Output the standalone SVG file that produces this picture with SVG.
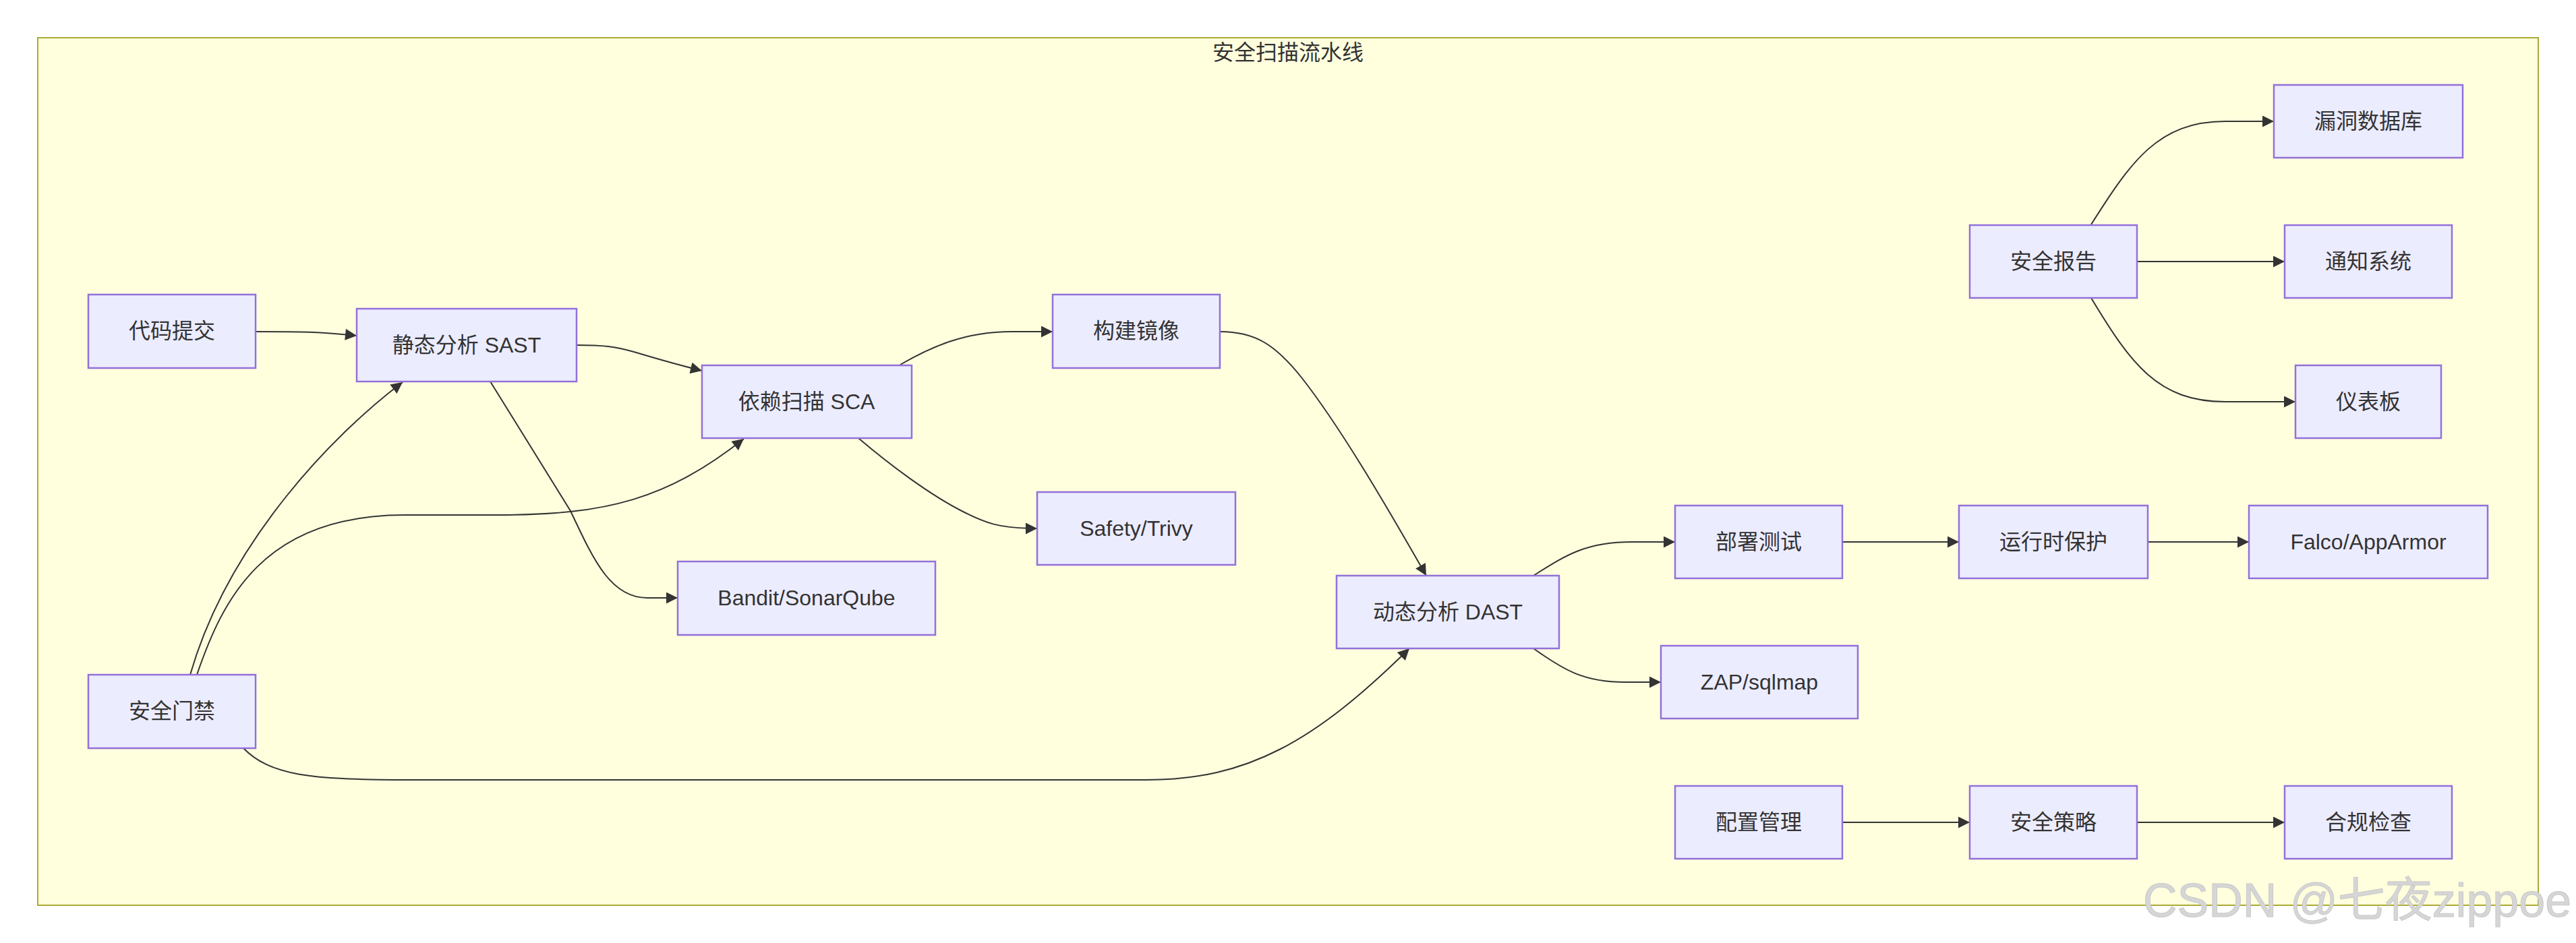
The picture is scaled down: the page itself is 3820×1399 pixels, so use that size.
<svg xmlns="http://www.w3.org/2000/svg" width="3820" height="1399" viewBox="0 0 3820 1399">
<style>
.cluster{fill:#ffffde;stroke:#aaaa33;stroke-width:2}
.node rect{fill:#ECECFF;stroke:#9370DB;stroke-width:2.5}
.node text,.title{font-family:"Liberation Sans","Noto Sans CJK SC",sans-serif;font-size:32px;fill:#333;text-anchor:middle;dominant-baseline:central}
.edges path{fill:none;stroke:#333;stroke-width:2;marker-end:url(#arrow)}
.wm{font-family:"Liberation Sans","Noto Sans CJK SC",sans-serif;font-size:70px;fill:#d6d6d6;stroke:#c8c8c8;stroke-width:1}
</style>
<defs>
<marker id="arrow" viewBox="0 0 10 10" refX="10" refY="5" markerWidth="18" markerHeight="17" markerUnits="userSpaceOnUse" orient="auto">
<path d="M0,0 L10,5 L0,10 z" fill="#333"/>
</marker>
</defs>
<rect width="3820" height="1399" fill="#ffffff"/>
<g id="cluster">
<rect class="cluster" x="56" y="56" width="3708" height="1287"/>
<text class="title" x="1910" y="78">安全扫描流水线</text>
</g>
<g class="edges" id="connectors">
<path d="M379,492 C450,492 470,492 529,498"/>
<path d="M855,512 C895,512 912,514 940,522 C970,531 1000,540 1041,550"/>
<path d="M1335,541 C1380,515 1430,492 1500,492 L1561,492"/>
<path d="M1273,650 C1320,690 1380,735 1430,760 C1460,775 1480,784 1538,784"/>
<path d="M727,566 L846,758 C880,830 905,887 960,887 L1005,887"/>
<path d="M1809,492 C1860,492 1890,510 1930,560 C1985,630 2050,740 2115,854"/>
<path d="M282,1001 C340,800 500,640 597,567"/>
<path d="M292,1001 C330,890 390,764 600,764 L740,764 C900,764 990,740 1103,651"/>
<path d="M361,1110 C400,1150 460,1157 600,1157 L1700,1157 C1850,1157 1950,1100 2090,962"/>
<path d="M2274,854 C2320,825 2350,804 2420,804 L2484,804"/>
<path d="M2274,962 C2320,995 2350,1012 2410,1012 L2463,1012"/>
<path d="M2732,804 L2905,804"/>
<path d="M3185,804 L3335,804"/>
<path d="M2732,1220 L2921,1220"/>
<path d="M3169,1220 L3388,1220"/>
<path d="M3101,333 C3160,240 3200,180 3300,180 L3372,180"/>
<path d="M3169,388 L3388,388"/>
<path d="M3101,442 C3160,540 3200,596 3300,596 L3404,596"/>
</g>
<g class="node" id="code_commit"><rect x="131" y="437" width="248" height="109"/><text x="255" y="491">代码提交</text></g>
<g class="node" id="sast"><rect x="529" y="458" width="326" height="108"/><text x="692" y="512">静态分析 SAST</text></g>
<g class="node" id="sca"><rect x="1041" y="542" width="311" height="108"/><text x="1196" y="596">依赖扫描 SCA</text></g>
<g class="node" id="build_image"><rect x="1561" y="437" width="248" height="109"/><text x="1685" y="491">构建镜像</text></g>
<g class="node" id="safety"><rect x="1538" y="730" width="294" height="108"/><text x="1685" y="784">Safety/Trivy</text></g>
<g class="node" id="bandit"><rect x="1005" y="833" width="382" height="109"/><text x="1196" y="887">Bandit/SonarQube</text></g>
<g class="node" id="gate"><rect x="131" y="1001" width="248" height="109"/><text x="255" y="1055">安全门禁</text></g>
<g class="node" id="dast"><rect x="1982" y="854" width="330" height="108"/><text x="2147" y="908">动态分析 DAST</text></g>
<g class="node" id="deploy_test"><rect x="2484" y="750" width="248" height="108"/><text x="2608" y="804">部署测试</text></g>
<g class="node" id="zap"><rect x="2463" y="958" width="292" height="108"/><text x="2609" y="1012">ZAP/sqlmap</text></g>
<g class="node" id="runtime"><rect x="2905" y="750" width="280" height="108"/><text x="3045" y="804">运行时保护</text></g>
<g class="node" id="falco"><rect x="3335" y="750" width="354" height="108"/><text x="3512" y="804">Falco/AppArmor</text></g>
<g class="node" id="config"><rect x="2484" y="1166" width="248" height="108"/><text x="2608" y="1220">配置管理</text></g>
<g class="node" id="policy"><rect x="2921" y="1166" width="248" height="108"/><text x="3045" y="1220">安全策略</text></g>
<g class="node" id="compliance"><rect x="3388" y="1166" width="248" height="108"/><text x="3512" y="1220">合规检查</text></g>
<g class="node" id="report"><rect x="2921" y="334" width="248" height="108"/><text x="3045" y="388">安全报告</text></g>
<g class="node" id="vulndb"><rect x="3372" y="126" width="280" height="108"/><text x="3512" y="180">漏洞数据库</text></g>
<g class="node" id="notify"><rect x="3388" y="334" width="248" height="108"/><text x="3512" y="388">通知系统</text></g>
<g class="node" id="dashboard"><rect x="3404" y="542" width="216" height="108"/><text x="3512" y="596">仪表板</text></g>
<text class="wm" x="3178" y="1360">CSDN @七夜zippoe</text>
</svg>
